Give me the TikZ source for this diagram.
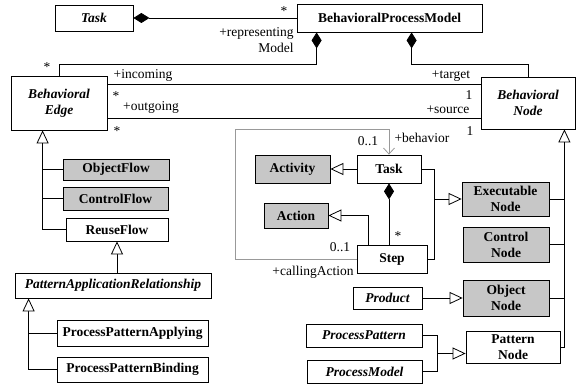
\documentclass[tikz,border=0pt]{standalone}
\usepackage{fontspec}
\setmainfont{Liberation Serif}
\usetikzlibrary{calc}
\usetikzlibrary{arrows.meta}

\begin{document}
\begin{tikzpicture}[x=1pt, y=-1pt, line width=0.8pt,
	every node/.style={font=\fontsize{13.5}{16}\selectfont, inner sep=0pt},
	cls/.style={draw=black, fill=white, align=center, font=\fontsize{13.5}{16}\selectfont\bfseries},
	abs/.style={cls, font=\fontsize{13.5}{16}\selectfont\bfseries\itshape},
	shaded/.style={cls, fill=black!22},
	gen/.style={-{Triangle[open, length=13pt, width=12pt, fill=white]}},
	comp/.style={{Diamond[length=16pt, width=10pt]}-},
	nav/.style={black!40, -{Straight Barb[length=6pt, width=11pt]}}]
			\useasboundingbox (0,0) rectangle (576,385);

			% classes
			\node[abs, minimum width=78, minimum height=26] (taskTop) at (94,18) {Task};
			\node[cls, minimum width=185, minimum height=28] (bpm) at (389.5,18) {BehavioralProcessModel};
			\node[abs, minimum width=96, minimum height=54] (bEdge) at (59,103) {Behavioral\\Edge};
			\node[abs, minimum width=94, minimum height=52] (bNode) at (528,103) {Behavioral\\Node};

			\node[shaded, minimum width=106, minimum height=21] (objFlow) at (116,169.5) {ObjectFlow};
			\node[shaded, minimum width=105, minimum height=23] (ctrlFlow) at (115.5,198.5) {ControlFlow};
			\node[cls, minimum width=102, minimum height=23] (reuseFlow) at (117,229.5) {ReuseFlow};
			\node[abs, minimum width=196, minimum height=25] (par) at (113,285.5) {PatternApplicationRelationship};
			\node[cls, minimum width=151, minimum height=26] (ppa) at (132.5,333) {ProcessPatternApplying};
			\node[cls, minimum width=151, minimum height=25] (ppb) at (132.5,369.5) {ProcessPatternBinding};

			\node[shaded, minimum width=75, minimum height=28] (activity) at (292.5,169) {Activity};
			\node[shaded, minimum width=64, minimum height=25] (action) at (296,215.5) {Action};
			\node[cls, minimum width=64, minimum height=28] (task) at (389,169) {Task};
			\node[cls, minimum width=70, minimum height=28] (step) at (392,259) {Step};

			\node[shaded, minimum width=87, minimum height=34] (execNode) at (505.5,199) {Executable\\Node};
			\node[shaded, minimum width=86, minimum height=35] (ctrlNode) at (506,244.5) {Control\\Node};
			\node[shaded, minimum width=86, minimum height=36] (objNode) at (506,298) {Object\\Node};
			\node[cls, minimum width=94, minimum height=32] (patNode) at (513,347) {Pattern\\Node};

			\node[abs, minimum width=69, minimum height=22] (product) at (387.5,298) {Product};
			\node[abs, minimum width=116, minimum height=23] (procPattern) at (364,335.5) {ProcessPattern};
			\node[abs, minimum width=115, minimum height=23] (procModel) at (364.5,371.5) {ProcessModel};

			% role names and multiplicities
			\node (m1) at (284,11) {*};
			\node[align=right, anchor=east] (r1) at (294,40) {+representing\\Model};
			\node (m2) at (47,67) {*};
			\node (r2) at (143,75) {+incoming};
			\node (m3) at (116,96) {*};
			\node (r3) at (151,107) {+outgoing};
			\node (m4) at (117,131) {*};
			\node (r4) at (451,76) {+target};
			\node (m5) at (469,95) {1};
			\node (r5) at (448,110) {+source};
			\node (m6) at (470,131) {1};
			\node (m7) at (368,141) {0..1};
			\node (r7) at (422,138) {+behavior};
			\node (m8) at (398,236) {*};
			\node (m9) at (340,247) {0..1};
			\node (r9) at (313,272) {+callingAction};

			% associations
			\draw[comp] (taskTop.east) -- (bpm.west);
			\draw[comp] ($(bpm.south west)+(20,0)$) -- ++(0,32) -| (bEdge.north);
			\draw[comp] ($(bpm.south west)+(115,0)$) -- ++(0,32) -| (bNode.north);
			\draw ($(bEdge.north east)+(0,9)$) -- ($(bNode.north west)+(0,8)$);
			\draw ($(bEdge.south east)+(0,-12)$) -- ($(bNode.south west)+(0,-11)$);
			\draw[comp] (task.south) -- (task.south |- step.north);
			\draw[nav] (step.west) -- ++(-121,0) |- ($(task.north)+(0,-25)$) -- (task.north);

			% generalizations
			\draw[gen] (reuseFlow.west) -| ($(bEdge.south west)+(32,0)$);
			\draw (objFlow.west) -- ++(-20,0);
			\draw (ctrlFlow.west) -- ++(-20,0);
			\draw[gen] (reuseFlow.south |- par.north) -- (reuseFlow.south);
			\draw[gen] (ppb.west) -| ($(par.south west)+(14,0)$);
			\draw (ppa.west) -- ++(-28,0);

			\draw[gen] (task.west) -- (activity.east);
			\draw[gen] ($(step.north west)+(12,0)$) |- (action.east);
			\coordinate (tJ) at ($(task.east)+(13,0)$);
			\draw (task.east) -- (tJ) |- (step.east);
			\draw[gen] (tJ |- execNode.west) -- (execNode.west);

			\draw[gen] (patNode.east) -| ($(bNode.south east)+(-11,0)$);
			\draw (execNode.east) -- ++(15,0);
			\draw (ctrlNode.east) -- ++(15,0);
			\draw (objNode.east) -- ++(15,0);

			\draw[gen] (product.east) -- (objNode.west);
			\coordinate (pJ) at ($(procPattern.east)!0.5!(procModel.east)+(15,0)$);
			\draw (procPattern.east) -| (pJ);
			\draw (procModel.east) -| (pJ);
			\draw[gen] (pJ) -- (pJ -| patNode.west);

		\end{tikzpicture}
\end{document}
